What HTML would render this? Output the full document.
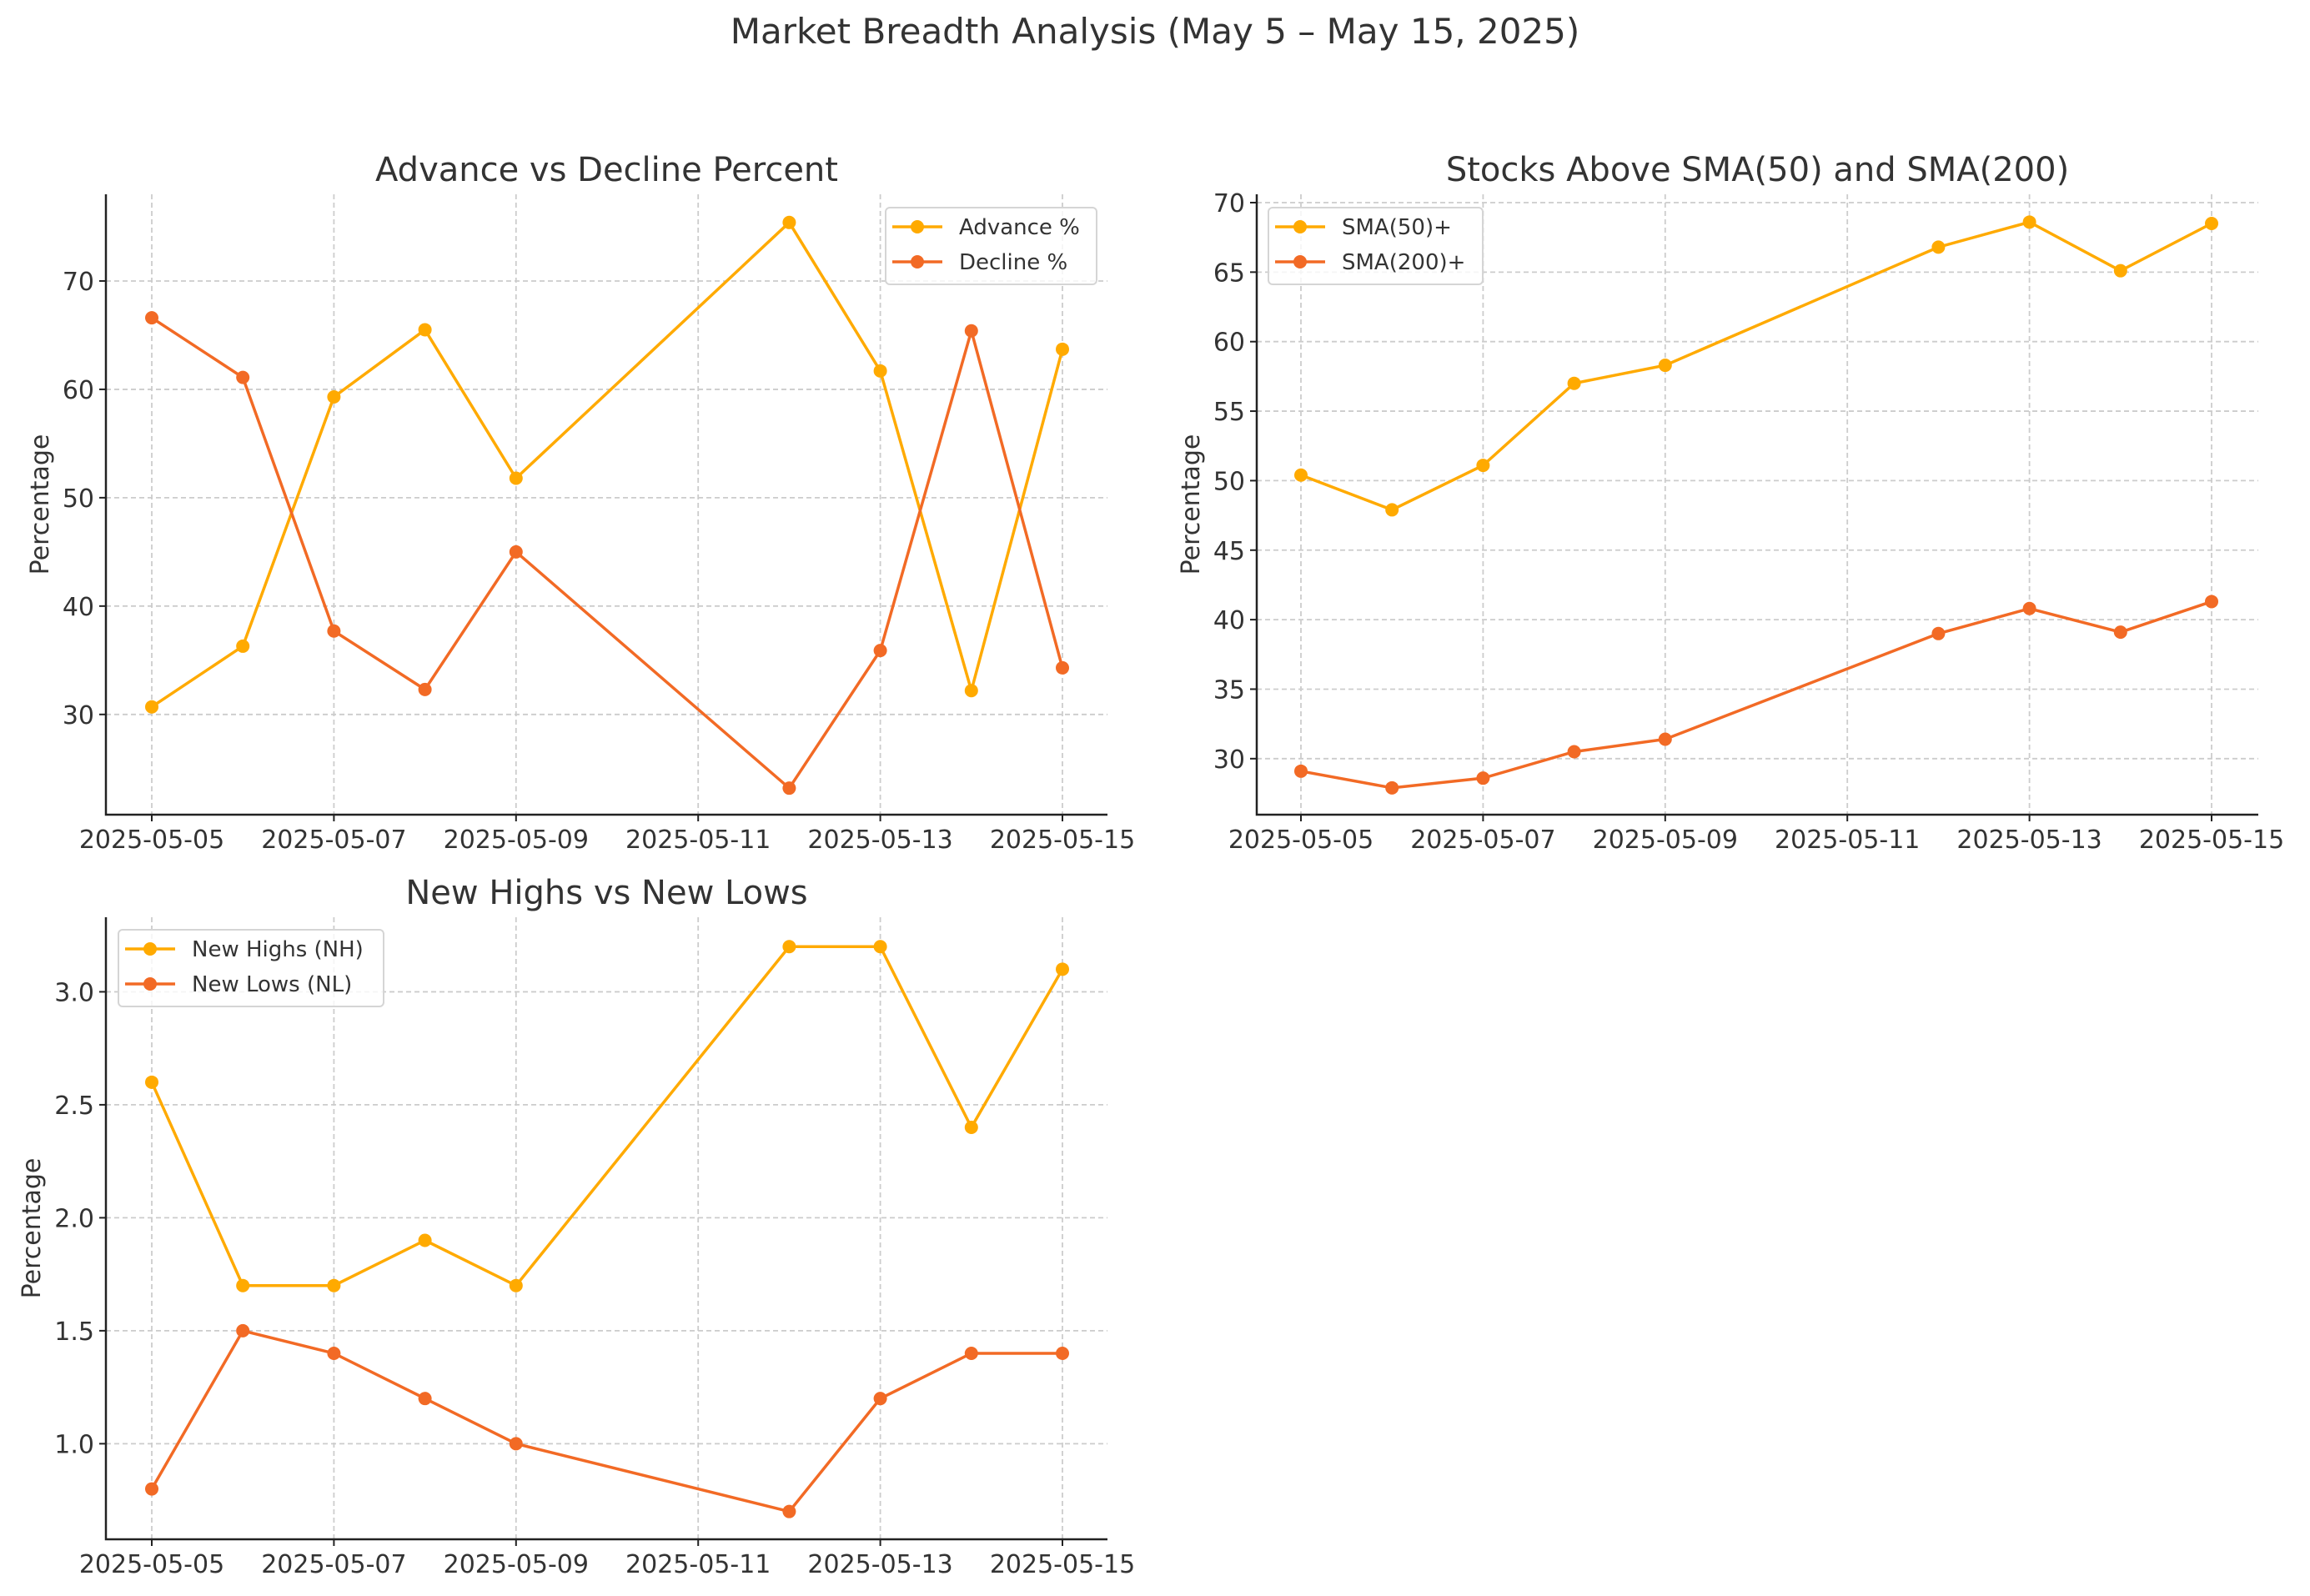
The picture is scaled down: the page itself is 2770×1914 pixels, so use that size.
<!DOCTYPE html>
<html><head><meta charset="utf-8"><style>
body{margin:0;background:#fff}
svg text{font-family:"DejaVu Sans","Liberation Sans",sans-serif;fill:#333}
</style></head><body>
<svg id="c" width="2770" height="1909" viewBox="0 0 2770 1909" xmlns="http://www.w3.org/2000/svg">
<text x="1385" y="52" font-size="42" text-anchor="middle">Market Breadth Analysis (May 5 – May 15, 2025)</text>
</svg>
<script>
const dates = [5,6,7,8,9,12,13,14,15];
const xTickLabels = ["2025-05-05","2025-05-07","2025-05-09","2025-05-11","2025-05-13","2025-05-15"];
const xTickDays = [5,7,9,11,13,15];
const advance = [30.7,36.3,59.3,65.5,51.8,75.4,61.7,32.2,63.7];
const decline = [66.6,61.1,37.7,32.3,45.0,23.2,35.9,65.4,34.3];
const sma50 = [50.4,47.9,51.1,57.0,58.3,66.8,68.6,65.1,68.5];
const sma200 = [29.1,27.9,28.6,30.5,31.4,39.0,40.8,39.1,41.3];
const newHighs = [2.6,1.7,1.7,1.9,1.7,3.2,3.2,2.4,3.1];
const newLows = [0.8,1.5,1.4,1.2,1.0,0.7,1.2,1.4,1.4];
const yTicks1 = [30,40,50,60,70];
const yTicks2 = [30,35,40,45,50,55,60,65,70];
const yTicks3 = [1.0,1.5,2.0,2.5,3.0];

const C1="#FFAA00", C2="#F26A25";
const svg=document.getElementById('c');
const NS="http://www.w3.org/2000/svg";
function mk(tag,attrs,parent){const e=document.createElementNS(NS,tag);for(const k in attrs)e.setAttribute(k,attrs[k]);(parent||svg).appendChild(e);return e;}

function panel(cfg){
  const g=mk('g',{});
  
  
  const L=cfg.left,R=cfg.right,T=cfg.top,B=cfg.bottom;
  const xs=d=>cfg.x05+(d-5)*(cfg.x15-cfg.x05)/10;
  const ys=v=>B-(v-cfg.ymin)*(B-T)/(cfg.ymax-cfg.ymin);
  // grid
  xTickDays.forEach(d=>{const l=mk('line',{x1:xs(d),x2:xs(d),y1:T,y2:B,stroke:'#ccc','stroke-width':1.8,'stroke-dasharray':'6,4'},g);
    });
  cfg.yticks.forEach(v=>{const l=mk('line',{x1:L,x2:R,y1:ys(v),y2:ys(v),stroke:'#ccc','stroke-width':1.8,'stroke-dasharray':'6,4'},g);
    });
  // axes
  const ax=mk('path',{d:`M${L},${T} L${L},${B} L${R},${B}`,fill:'none',stroke:'#222','stroke-width':2.5},g);
  
  xTickLabels.forEach((t,i)=>{const x=xs(xTickDays[i]);
    mk('line',{x1:x,x2:x,y1:B,y2:B+8,stroke:'#222','stroke-width':2},g);
    const tx=mk('text',{x:x,y:B+40,'font-size':30,'text-anchor':'middle'},g);tx.textContent=t;
    });
  cfg.yticks.forEach(v=>{const y=ys(v);
    mk('line',{x1:L-8,x2:L,y1:y,y2:y,stroke:'#222','stroke-width':2},g);
    const tx=mk('text',{x:L-14,y:y+11,'font-size':30,'text-anchor':'end'},g);tx.textContent=cfg.fmt(v);
    });
  const tt=mk('text',{x:(L+R)/2,y:cfg.titleY,'font-size':40,'text-anchor':'middle'},g);tt.textContent=cfg.title;
  
  const yl=mk('text',{x:0,y:0,'font-size':30,'text-anchor':'middle',transform:`translate(${cfg.ylabX},${(T+B)/2}) rotate(-90)`},g);yl.textContent='Percentage';
  
  cfg.series.forEach(s=>{
    const sg=mk('g',{},g);
    
    const pts=s.vals.map((v,i)=>xs(dates[i])+','+ys(v)).join(' ');
    mk('polyline',{points:pts,fill:'none',stroke:s.color,'stroke-width':3.5},sg);
    s.vals.forEach((v,i)=>{const c=mk('circle',{cx:xs(dates[i]),cy:ys(v),r:8,fill:s.color},sg);
      });
  });
  // legend
  const lg=mk('g',{},g);
  
  mk('rect',{x:cfg.lx,y:cfg.ly,width:cfg.lw,height:92,rx:5,fill:'#fff','fill-opacity':0.8,stroke:'#d5d5d5','stroke-width':2},lg);
  cfg.series.forEach((s,i)=>{const y=cfg.ly+23+i*42;
    const e=mk('g',{},lg);
    mk('line',{x1:cfg.lx+8,x2:cfg.lx+68,y1:y,y2:y,stroke:s.color,'stroke-width':3.5},e);
    mk('circle',{cx:cfg.lx+38,cy:y,r:8,fill:s.color},e);
    const t=mk('text',{x:cfg.lx+88,y:y+9,'font-size':26},e);t.textContent=s.label;});
}
panel({name:'advance-decline-panel',title:'Advance vs Decline Percent',left:127,right:1328,top:233,bottom:977,x05:182,x15:1274,ymin:20.75,ymax:78.0,yticks:yTicks1,fmt:v=>String(v),titleY:217,ylabX:58,
  series:[{name:'advance-series',label:'Advance %',vals:advance,color:C1},{name:'decline-series',label:'Decline %',vals:decline,color:C2}],lx:1062,ly:249,lw:253});
panel({name:'sma-panel',title:'Stocks Above SMA(50) and SMA(200)',left:1507,right:2708,top:233,bottom:977,x05:1560,x15:2652,ymin:25.97,ymax:70.6,yticks:yTicks2,fmt:v=>String(v),titleY:217,ylabX:1438,
  series:[{name:'sma50-series',label:'SMA(50)+',vals:sma50,color:C1},{name:'sma200-series',label:'SMA(200)+',vals:sma200,color:C2}],lx:1521,ly:249,lw:257});
panel({name:'highs-lows-panel',title:'New Highs vs New Lows',left:127,right:1328,top:1100,bottom:1846,x05:182,x15:1274,ymin:0.577,ymax:3.33,yticks:yTicks3,fmt:v=>v.toFixed(1),titleY:1084,ylabX:48,
  series:[{name:'new-highs-series',label:'New Highs (NH)',vals:newHighs,color:C1},{name:'new-lows-series',label:'New Lows (NL)',vals:newLows,color:C2}],lx:142,ly:1115,lw:318});
</script>
</body></html>
